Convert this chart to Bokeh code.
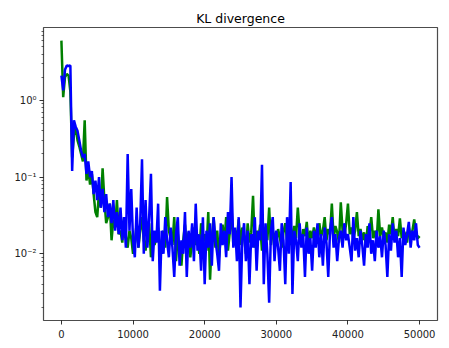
from bokeh.plotting import figure
from bokeh.models import FixedTicker, CustomJSTickFormatter, Range1d, ColumnDataSource
from bokeh.embed import file_html
from bokeh.resources import INLINE

step = 250
green = [
    6.0, 1.1, 2.0, 2.2, 2.1, 1.3, 0.18, 0.35, 0.45, 0.3, 0.25, 0.2, 0.16, 0.55, 0.09, 0.13, 0.08, 0.11, 0.06, 0.035,
    0.03, 0.065, 0.04, 0.13, 0.05, 0.025, 0.03, 0.045, 0.015, 0.028, 0.022, 0.05, 0.018, 0.02, 0.014, 0.03, 0.017, 0.012, 0.02, 0.016,
    0.01, 0.014, 0.025, 0.012, 0.02, 0.03, 0.015, 0.011, 0.02, 0.025, 0.009, 0.018, 0.013, 0.016, 0.022, 0.01, 0.014, 0.02, 0.012, 0.055,
    0.02, 0.016, 0.013, 0.03, 0.008, 0.018, 0.011, 0.007, 0.015, 0.024, 0.012, 0.019, 0.009, 0.016, 0.022, 0.013, 0.018, 0.01, 0.025, 0.015,
    0.018, 0.011, 0.035, 0.0046, 0.016, 0.03, 0.012, 0.02, 0.009, 0.017, 0.024, 0.014, 0.03, 0.011, 0.019, 0.04, 0.013, 0.02, 0.016, 0.028,
    0.013, 0.022, 0.017, 0.01, 0.025, 0.014, 0.019, 0.057, 0.012, 0.02, 0.016, 0.024, 0.011, 0.018, 0.022, 0.015, 0.04, 0.013, 0.02, 0.017,
    0.014, 0.021, 0.016, 0.012, 0.019, 0.025, 0.015, 0.02, 0.013, 0.018, 0.023, 0.016, 0.04, 0.019, 0.014, 0.021, 0.017, 0.026, 0.013, 0.02,
    0.016, 0.022, 0.018, 0.014, 0.025, 0.017, 0.02, 0.03, 0.015, 0.021, 0.018, 0.045, 0.016, 0.023, 0.019, 0.014, 0.047, 0.02, 0.017, 0.025,
    0.045, 0.018, 0.022, 0.016, 0.02, 0.035, 0.017, 0.021, 0.015, 0.019, 0.013, 0.023, 0.018, 0.03, 0.016, 0.02, 0.014, 0.038, 0.017, 0.022,
    0.016, 0.019, 0.014, 0.024, 0.018, 0.03, 0.015, 0.021, 0.017, 0.029, 0.016, 0.02, 0.018, 0.014, 0.022, 0.017, 0.02, 0.028, 0.019, 0.016,
    0.017,
]
blue = [
    2.1, 1.35, 2.5, 2.85, 2.8, 2.85, 0.12, 0.55, 0.45, 0.4, 0.3, 0.22, 0.18, 0.2, 0.11, 0.16, 0.1, 0.12, 0.06, 0.09,
    0.05, 0.1, 0.04, 0.07, 0.035, 0.06, 0.03, 0.045, 0.025, 0.05, 0.02, 0.035, 0.018, 0.04, 0.015, 0.03, 0.012, 0.2, 0.02, 0.07,
    0.015, 0.009, 0.04, 0.012, 0.025, 0.17, 0.01, 0.05, 0.012, 0.03, 0.11, 0.008, 0.02, 0.014, 0.045, 0.0033, 0.02, 0.01, 0.03, 0.015,
    0.009, 0.022, 0.012, 0.005, 0.018, 0.03, 0.007, 0.015, 0.01, 0.035, 0.005, 0.02, 0.012, 0.025, 0.008, 0.045, 0.011, 0.018, 0.006, 0.03,
    0.004, 0.02, 0.012, 0.025, 0.007, 0.03, 0.015, 0.01, 0.006, 0.025, 0.013, 0.02, 0.009, 0.035, 0.018, 0.1, 0.012, 0.022, 0.008, 0.03,
    0.002, 0.015, 0.025, 0.008, 0.02, 0.004, 0.018, 0.012, 0.03, 0.006, 0.02, 0.015, 0.145, 0.004, 0.025, 0.01, 0.0023, 0.02, 0.03, 0.008,
    0.02, 0.012, 0.006, 0.025, 0.015, 0.004, 0.03, 0.01, 0.086, 0.003, 0.02, 0.015, 0.008, 0.025, 0.012, 0.018, 0.005, 0.022, 0.01, 0.016,
    0.006, 0.02, 0.012, 0.025, 0.009, 0.018, 0.007, 0.022, 0.014, 0.005, 0.02, 0.03, 0.012, 0.018, 0.008, 0.016, 0.02, 0.012, 0.025, 0.015,
    0.018, 0.012, 0.008, 0.03, 0.011, 0.016, 0.009, 0.02, 0.013, 0.007, 0.018, 0.012, 0.025, 0.01, 0.015, 0.008, 0.02, 0.012, 0.017, 0.009,
    0.02, 0.013, 0.005, 0.018, 0.011, 0.025, 0.014, 0.02, 0.009, 0.016, 0.005, 0.022, 0.013, 0.018, 0.026, 0.012, 0.02, 0.015, 0.025, 0.013,
    0.012,
]
steps = [i * step for i in range(len(green))]
x_ticks = [0, 10000, 20000, 30000, 40000, 50000]
y_ticks = [0.001, 0.01, 0.1, 1, 10]
y_minor = [m * d for d in [0.001, 0.01, 0.1, 1] for m in range(2, 10)]

src = ColumnDataSource(dict(x=steps, g=green, b=blue))

p = figure(width=441, height=340, y_axis_type="log", output_backend="svg",
           toolbar_location=None, title="KL divergence",
           x_range=Range1d(-2500, 52500), y_range=Range1d(0.00135, 8.9),
           min_border_left=43, min_border_right=4, min_border_top=27, min_border_bottom=19)

p.line("x", "g", source=src, line_color="green", line_width=2.5)
p.line("x", "b", source=src, line_color="blue", line_width=2.5)

p.title.align = "center"
p.title.text_font = "DejaVu Sans"
p.title.text_font_size = "12.5px"
p.title.text_font_style = "normal"
p.title.text_color = "black"
p.title.standoff = 4

p.xgrid.visible = False
p.ygrid.visible = False
p.outline_line_color = "black"
p.outline_line_alpha = 0.7
p.outline_line_width = 1.2
p.background_fill_color = "white"
p.border_fill_color = "white"

p.xaxis.ticker = FixedTicker(ticks=x_ticks)
p.yaxis.ticker = FixedTicker(ticks=y_ticks, minor_ticks=y_minor)
p.yaxis.formatter = CustomJSTickFormatter(code="""
const e = Math.round(Math.log10(tick));
const sup = {"-":"\u207b","0":"\u2070","1":"\u00b9","2":"\u00b2","3":"\u00b3","4":"\u2074"};
return "10" + String(e).split("").map(c => sup[c]).join("");
""")

for ax in (p.xaxis[0], p.yaxis[0]):
    ax.axis_line_color = None
    ax.major_tick_line_color = "black"
    ax.major_tick_line_alpha = 0.8
    ax.major_tick_in = 0
    ax.major_tick_out = 4
    ax.minor_tick_in = 0
    ax.minor_tick_out = 2
    ax.minor_tick_line_color = "black"
    ax.minor_tick_line_alpha = 0.6
    ax.major_label_text_font = "DejaVu Sans"
    ax.major_label_text_font_size = "10px"
    ax.major_label_text_color = "#222222"
    ax.major_label_standoff = 3
p.xaxis.minor_tick_line_color = None
p.xaxis.major_label_standoff = 5

open("out.html", "w").write(file_html(p, INLINE))
